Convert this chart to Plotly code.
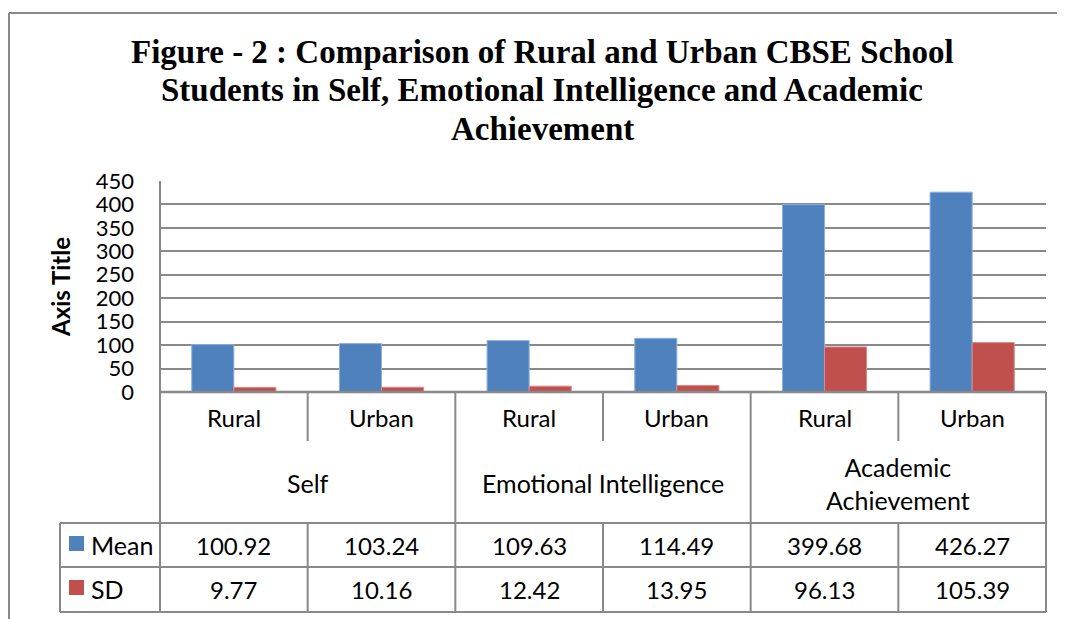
import plotly.graph_objects as go

groups = ["Self", "Emotional Intelligence", "Academic<br>Achievement"]
locations = ["Rural", "Urban"]
categories = ["Self Rural", "Self Urban", "EI Rural", "EI Urban", "AA Rural", "AA Urban"]
mean_values = [100.92, 103.24, 109.63, 114.49, 399.68, 426.27]
sd_values = [9.77, 10.16, 12.42, 13.95, 96.13, 105.39]
mean_labels = ["100.92", "103.24", "109.63", "114.49", "399.68", "426.27"]
sd_labels = ["9.77", "10.16", "12.42", "13.95", "96.13", "105.39"]
y_ticks = [0, 50, 100, 150, 200, 250, 300, 350, 400, 450]
title_lines = ["Figure - 2 : Comparison of Rural and Urban CBSE School",
               "Students in Self, Emotional Intelligence and Academic",
               "Achievement"]

W, H = 1065, 619
OFF = 8  # page body margin
def px(x): return (x - OFF) / W
def py(y): return 1 - (y - OFF) / H

BLUE = "#4F81BD"
RED = "#C0504D"
GRID = "#898989"
FONT = "Lato"

L, R, TOP, ZERO = 160, 1046, 181, 392
ROW1, ROW2, ROW3, ROW4 = 441, 523, 567, 612
colw = (R - L) / 6

fig = go.Figure()
fig.add_trace(go.Bar(x=categories, y=mean_values, name="Mean", marker=dict(color=BLUE, line=dict(color="#8EB0DA", width=1))))
fig.add_trace(go.Bar(x=categories, y=sd_values, name="SD", marker=dict(color=RED, line=dict(color="#D88A88", width=1))))

shapes = []
def line(x0, y0, x1, y1, w=2):
    shapes.append(dict(type="line", xref="paper", yref="paper", x0=px(x0), y0=py(y0), x1=px(x1), y1=py(y1),
                       line=dict(color=GRID, width=w), layer="above"))

# outer chart border
line(9, 13, W + 20, 13, 2)
line(9, 13, 9, H + 20, 2)
# axis / table lines
line(L, TOP, L, ROW4)
line(L, ZERO, R, ZERO, 2.5)
for y in (ROW2, ROW3, ROW4):
    line(60, y, R, y)
line(60, ROW2, 60, ROW4)
for g in range(1, 4):
    line(L + 2 * g * colw, ZERO, L + 2 * g * colw, ROW4)
for g in range(3):
    xm = L + (2 * g + 1) * colw
    line(xm, ZERO, xm, ROW1)
    line(xm, ROW2, xm, ROW4)

ann = []
tf = dict(family=FONT, size=24, color="black")
def text(x, y, s, font=tf, **kw):
    d = dict(x=px(x), y=py(y), xref="paper", yref="paper", text=s, showarrow=False, font=font,
             xanchor="center", yanchor="middle")
    d.update(kw)
    ann.append(d)

for i in range(6):
    cx = L + (i + 0.5) * colw
    text(cx, 417, locations[i % 2])
    text(cx, 545, mean_labels[i])
    text(cx, 589, sd_labels[i])
for g in range(3):
    cx = L + (2 * g + 1) * colw
    text(cx, 483, groups[g], font=dict(family=FONT, size=25, color="black"))
# legend keys
for name, col, yc in (("Mean", BLUE, 544), ("SD", RED, 588)):
    shapes.append(dict(type="rect", xref="paper", yref="paper", x0=px(69), x1=px(84), y0=py(yc - 8), y1=py(yc + 7),
                       fillcolor=col, line=dict(width=0)))
    text(89, yc + 1, name, xanchor="left", font=dict(family=FONT, size=25, color="black"))
# axis title
text(60, 287, "<b>Axis Title</b>", font=dict(family=FONT, size=24, color="black"), textangle=-90)
# title
for k, (s, yc) in enumerate(zip(title_lines, (52, 90, 129))):
    text(542, yc, "<b>" + s + "</b>", font=dict(family="Liberation Serif", size=33, color="black"))

fig.update_layout(
    width=W, height=H, autosize=False,
    margin=dict(l=0, r=0, t=0, b=0, pad=0, autoexpand=False),
    paper_bgcolor="white", plot_bgcolor="white",
    barmode="group", bargap=0.43, bargroupgap=0,
    showlegend=False,
    shapes=shapes, annotations=ann,
    xaxis=dict(domain=[px(L), px(R)], showticklabels=False, showgrid=False, zeroline=False, showline=False, ticks=""),
    yaxis=dict(domain=[py(ZERO), py(TOP)], range=[0, 450], tickvals=y_ticks, showgrid=True, gridcolor=GRID, gridwidth=2,
               zeroline=False, showline=False, ticks="", automargin=False,
               tickfont=dict(family=FONT, size=22, color="black"), ticklabelstandoff=25),
)
fig.write_html("out.html")
